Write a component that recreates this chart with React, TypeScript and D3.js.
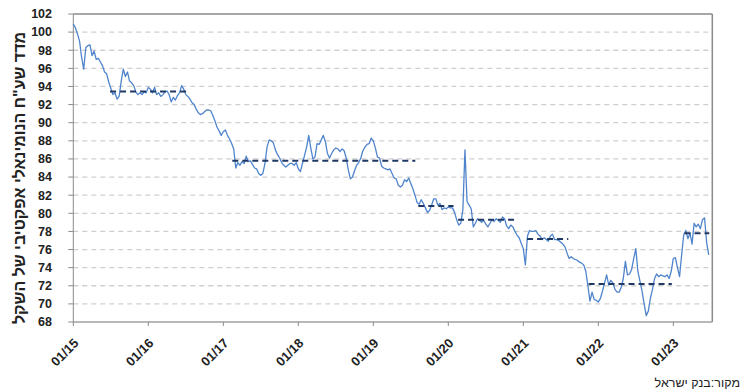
import React from "react";
import * as d3 from "d3";

// ---- data (index values, ~10-day sampling, 36 per year) ----
const years = [2015, 2016, 2017, 2018, 2019, 2020, 2021, 2022, 2023];
const v2015 = [100.9,100.5,99.8,99.0,97.2,95.9,98.3,98.5,98.6,97.4,97.9,97.0,97.1,96.7,96.3,95.6,95.4,94.5,93.8,93.1,93.3,92.6,92.9,94.6,95.9,95.1,95.6,94.6,94.4,94.1,93.4,93.1,93.3,93.1,93.4,93.3];
const v2016 = [93.9,93.7,93.3,93.9,93.1,93.3,92.9,93.1,93.4,93.5,93.1,92.3,92.8,92.5,93.0,93.3,94.1,93.7,93.1,92.9,92.6,92.2,92.0,91.5,91.1,90.9,91.0,91.2,91.4,91.4,91.3,90.8,90.2,89.5,89.1,88.6];
const v2017 = [89.0,89.2,88.6,88.2,87.7,87.1,85.0,85.6,85.3,85.7,85.5,86.3,85.7,85.8,85.4,85.0,84.9,84.4,84.2,84.4,85.5,87.3,88.1,88.0,87.8,87.0,86.5,86.1,85.6,85.3,85.1,85.3,85.5,85.5,85.3,85.6];
const v2018 = [84.9,84.6,85.5,86.4,87.3,88.6,87.2,86.0,86.2,87.7,87.6,88.1,88.6,87.9,86.6,86.1,86.6,87.0,87.2,87.1,86.8,87.1,86.9,86.1,84.8,83.8,84.0,84.7,85.3,85.6,86.1,86.9,87.3,87.6,87.7,88.3];
const v2019 = [88.0,87.2,86.2,86.1,85.2,85.0,84.9,84.8,84.9,84.4,83.9,83.8,83.1,82.9,83.1,83.7,83.5,83.9,83.3,82.7,82.0,81.2,81.0,81.5,81.1,80.6,80.1,80.3,80.9,81.6,81.6,80.9,81.1,80.4,80.6,80.5];
const v2020 = [80.7,80.6,80.6,80.1,79.3,78.7,78.9,80.4,87.0,81.3,80.9,80.5,78.5,78.9,79.4,79.2,79.0,79.2,78.8,78.5,78.9,79.3,79.1,79.4,79.2,79.0,79.6,79.4,78.6,78.3,78.7,78.5,78.0,77.6,77.3,76.7];
const v2021 = [76.1,74.3,77.5,78.1,78.0,78.0,78.1,77.7,77.5,77.1,77.3,77.1,76.9,77.5,77.7,77.1,77.1,77.0,76.8,76.6,76.3,75.6,75.0,75.2,75.0,74.9,74.8,74.6,74.5,74.3,73.6,72.0,70.3,71.3,70.5,70.4];
const v2022 = [70.2,70.6,71.4,72.3,73.2,72.1,72.6,72.3,71.6,71.3,71.3,71.8,72.8,74.7,73.2,73.3,73.8,75.0,76.1,73.6,72.5,71.4,70.0,68.7,69.2,70.6,71.6,72.8,73.3,73.0,73.2,73.1,73.0,73.2,72.8,73.6];
const v2023 = [75.0,75.1,74.0,73.0,75.4,77.6,78.1,77.2,77.8,76.6,78.9,78.5,78.8,78.3,79.3,79.5,76.8,75.4];
const seriesByYear = [v2015, v2016, v2017, v2018, v2019, v2020, v2021, v2022, v2023];
const samplesPerYear = 36;

// period averages (dashed lines)
const avgStart = [2015.49, 2017.12, 2019.60, 2020.13, 2021.05, 2021.87, 2023.15];
const avgEnd = [2016.51, 2019.56, 2020.07, 2020.91, 2021.60, 2022.98, 2023.48];
const avgValue = [93.45, 85.8, 80.8, 79.3, 77.15, 72.2, 77.8];

const yTicks = [68,70,72,74,76,78,80,82,84,86,88,90,92,94,96,98,100,102];
const xTickYears = [2015, 2016, 2017, 2018, 2019, 2020, 2021, 2022, 2023];
const xTickLabels = ["01/15","01/16","01/17","01/18","01/19","01/20","01/21","01/22","01/23"];

const yTitle = 'מדד שע"ח הנומינאלי אפקטיבי של השקל';
const sourceText = "מקור:בנק ישראל";

export default function App() {
  const W = 742, H = 389;
  const left = 73.3, right = 712.3, top = 14, bottom = 322;
  const x = d3.scaleLinear().domain([2015, 2023.52]).range([left, right]);
  const y = d3.scaleLinear().domain([68, 102]).range([bottom, top]);

  const points: [number, number][] = [];
  seriesByYear.forEach((vals, k) => {
    vals.forEach((v, i) => points.push([years[k] + i / samplesPerYear, v]));
  });
  const line = d3.line<[number, number]>().x(d => x(d[0])).y(d => y(d[1]));

  const labelFont = "'Liberation Sans Narrow', 'Arial Narrow', 'Liberation Sans', Arial, sans-serif";

  return (
    <svg width={W} height={H} style={{ position: "absolute", left: 0, top: 0, background: "#fff" }}>
      {/* grid */}
      {yTicks.filter(t => t > 68 && t < 102).map(t => (
        <line key={"g" + t} x1={left} x2={right} y1={y(t)} y2={y(t)}
          stroke="#cfcfcf" strokeWidth={1.3} strokeDasharray="5,4" />
      ))}
      {/* frame */}
      <line x1={left} x2={right} y1={top} y2={top} stroke="#8a8a8a" strokeWidth={1.5} />
      <line x1={right} x2={right} y1={top} y2={bottom} stroke="#8a8a8a" strokeWidth={1.5} />
      <line x1={left} x2={left} y1={top} y2={bottom} stroke="#8a8a8a" strokeWidth={1} />
      <line x1={left} x2={right} y1={bottom} y2={bottom} stroke="#a0a0a0" strokeWidth={1.3} />
      {/* y ticks */}
      {yTicks.map(t => (
        <g key={"y" + t}>
          <line x1={left - 5} x2={left} y1={y(t)} y2={y(t)} stroke="#8a8a8a" strokeWidth={1} />
          <text x={52} y={y(t)} dy="0.35em" textAnchor="end" fontFamily={labelFont}
            fontWeight="bold" fontSize={12.5} fill="#222">{t}</text>
        </g>
      ))}
      {/* x ticks */}
      {xTickYears.map((yr, i) => (
        <g key={"x" + yr}>
          <line x1={x(yr)} x2={x(yr)} y1={bottom} y2={bottom + 4} stroke="#8a8a8a" strokeWidth={1} />
          <text transform={`translate(${x(yr) + 6},${344}) rotate(-45)`} textAnchor="end"
            fontFamily={labelFont} fontWeight="bold" fontSize={13} fill="#222">{xTickLabels[i]}</text>
        </g>
      ))}
      {/* data line */}
      <path d={line(points) || ""} fill="none" stroke="#4f84cc" strokeWidth={1.3} strokeLinejoin="round" />
      {/* averages */}
      {avgValue.map((v, i) => (
        <line key={"a" + i} x1={x(avgStart[i])} x2={x(avgEnd[i])} y1={y(v)} y2={y(v)}
          stroke="#1f3864" strokeWidth={2} strokeDasharray="6,4" />
      ))}
      {/* y title */}
      <text transform="translate(25,178) rotate(-90)" textAnchor="middle"
        fontFamily="'Liberation Sans', Arial, sans-serif" fontWeight="bold" fontSize={16} fill="#222">{yTitle}</text>
      {/* source */}
      <text x={740} y={387} textAnchor="end" fontFamily="'Liberation Sans', Arial, sans-serif"
        fontSize={12.5} fill="#222">{sourceText}</text>
    </svg>
  );
}
